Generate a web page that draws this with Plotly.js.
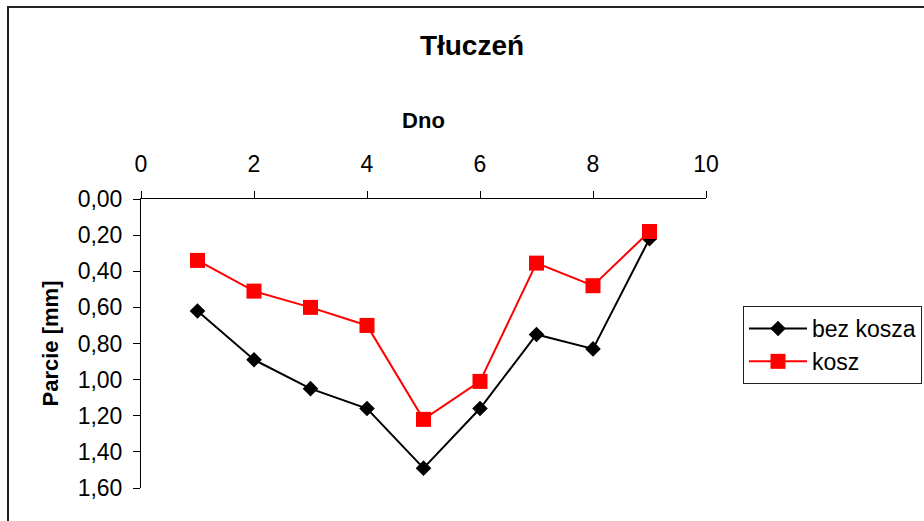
<!DOCTYPE html>
<html>
<head>
<meta charset="utf-8">
<script src="https://cdn.plot.ly/plotly-3.0.1.min.js"></script>
<style>
html,body{margin:0;padding:0;background:#fff;overflow:hidden;}
#wrap{position:relative;width:924px;height:521px;}
#chart{width:924px;height:521px;}
#frame{position:absolute;left:7px;top:6px;width:1000px;height:1000px;border-left:2px solid #222;border-top:2px solid #222;pointer-events:none;}
</style>
</head>
<body>
<div id="wrap"><div id="chart"></div><div id="frame"></div></div>
<script>
const xValues = [1, 2, 3, 4, 5, 6, 7, 8, 9];
const bezKosza = [0.62, 0.89, 1.05, 1.16, 1.49, 1.16, 0.75, 0.83, 0.22];
const kosz = [0.34, 0.51, 0.60, 0.70, 1.22, 1.01, 0.355, 0.48, 0.18];
const seriesNames = ['bez kosza', 'kosz'];
const xTicks = [0, 2, 4, 6, 8, 10];
const yTicks = [0, 0.2, 0.4, 0.6, 0.8, 1.0, 1.2, 1.4, 1.6];

const font = 'Liberation Sans, Arial, sans-serif';
const traces = [
  {x: xValues, y: bezKosza, name: seriesNames[0], type: 'scatter', mode: 'lines+markers',
   line: {color: '#000000', width: 2}, marker: {symbol: 'diamond', size: 12, color: '#000000'}},
  {x: xValues, y: kosz, name: seriesNames[1], type: 'scatter', mode: 'lines+markers',
   line: {color: '#FF0000', width: 2}, marker: {symbol: 'square', size: 15, color: '#FF0000'}}
];
const layout = {
  width: 924, height: 521,
  margin: {l: 141, r: 218, t: 199, b: 33},
  paper_bgcolor: '#ffffff', plot_bgcolor: '#ffffff',
  separators: ', ',
  font: {family: font, size: 23, color: '#000'},
  title: {text: '<b>Tłuczeń</b>', font: {family: font, size: 28, color: '#000'}, automargin: false,
          x: 472/924, xref: 'container', xanchor: 'center', y: 1 - 45/521, yref: 'container', yanchor: 'middle'},
  xaxis: {side: 'top', range: [0, 10], tickvals: xTicks, ticktext: xTicks.map(String), automargin: false,
          showgrid: false, zeroline: false, showline: true, linecolor: '#000', linewidth: 1,
          ticks: 'outside', ticklen: 7, tickcolor: '#000', tickfont: {size: 23}, ticklabelstandoff: 10,
          title: {text: '<b>Dno</b>', font: {size: 22}, standoff: 16}},
  yaxis: {range: [1.6, 0], tickvals: yTicks, tickformat: '.2f', automargin: false,
          showgrid: false, zeroline: false, showline: true, linecolor: '#000', linewidth: 1,
          ticks: 'outside', ticklen: 7, tickcolor: '#000', tickfont: {size: 23}, ticklabelstandoff: 6,
          title: {text: '<b>Parcie [mm]</b>', font: {size: 22}, standoff: 12}},
  legend: {x: 743/924, xref: 'container', xanchor: 'left', y: 1 - 306/521, yref: 'container', yanchor: 'top',
           bordercolor: '#222', borderwidth: 1, bgcolor: '#fff', font: {size: 23},
           itemwidth: 58, tracegroupgap: 0},
  showlegend: true
};
Plotly.newPlot('chart', traces, layout, {staticPlot: true, displayModeBar: false});
</script>
</body>
</html>
